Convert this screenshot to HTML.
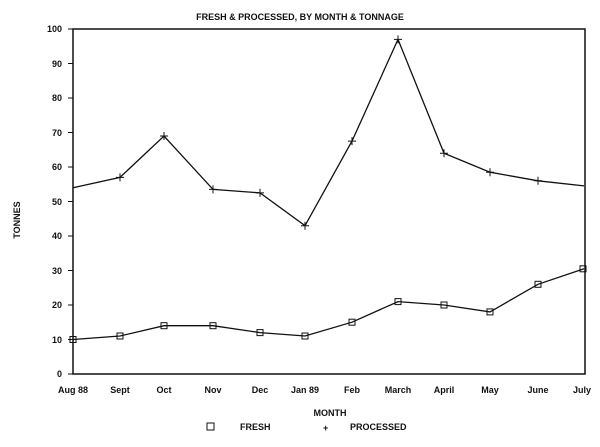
<!DOCTYPE html>
<html><head><style>
body{margin:0;background:#fff;}
svg text{font-family:"Liberation Sans",sans-serif;font-weight:bold;font-size:9px;fill:#111;}
</style></head><body>
<svg width="600" height="442" viewBox="0 0 600 442" xmlns="http://www.w3.org/2000/svg">
<rect width="600" height="442" fill="#fff"/>
<text x="300" y="20" text-anchor="middle">FRESH &amp; PROCESSED, BY MONTH &amp; TONNAGE</text>
<rect x="73" y="29" width="512" height="345" fill="none" stroke="#111" stroke-width="1.5"/>
<g stroke="#111" stroke-width="1">
<line x1="68" y1="374" x2="73" y2="374"/><line x1="68" y1="339.5" x2="73" y2="339.5"/>
<line x1="68" y1="305" x2="73" y2="305"/><line x1="68" y1="270.5" x2="73" y2="270.5"/>
<line x1="68" y1="236" x2="73" y2="236"/><line x1="68" y1="201.5" x2="73" y2="201.5"/>
<line x1="68" y1="167" x2="73" y2="167"/><line x1="68" y1="132.5" x2="73" y2="132.5"/>
<line x1="68" y1="98" x2="73" y2="98"/><line x1="68" y1="63.5" x2="73" y2="63.5"/>
<line x1="68" y1="29" x2="73" y2="29"/>
</g>
<g text-anchor="end">
<text x="62" y="377">0</text><text x="62" y="343">10</text><text x="62" y="308">20</text>
<text x="62" y="274">30</text><text x="62" y="239">40</text><text x="62" y="205">50</text>
<text x="62" y="170">60</text><text x="62" y="136">70</text><text x="62" y="101">80</text>
<text x="62" y="67">90</text><text x="62" y="32">100</text>
</g>
<text x="20" y="220" text-anchor="middle" transform="rotate(-90 20 220)" font-size="8">TONNES</text>
<g text-anchor="middle">
<text x="73" y="393">Aug 88</text><text x="120" y="393">Sept</text><text x="164" y="393">Oct</text>
<text x="213" y="393">Nov</text><text x="260" y="393">Dec</text><text x="305" y="393">Jan 89</text>
<text x="352" y="393">Feb</text><text x="398" y="393">March</text><text x="444" y="393">April</text>
<text x="490" y="393">May</text><text x="538" y="393">June</text><text x="582" y="393">July</text>
<text x="330" y="416" font-size="8">MONTH</text>
</g>
<rect x="207" y="423" width="7" height="7" fill="none" stroke="#111"/>
<text x="240" y="430">FRESH</text>
<text x="323" y="431" font-size="11">+</text>
<text x="350" y="430">PROCESSED</text>
<polyline fill="none" stroke="#111" stroke-width="1.3" points="73,187.7 120,177.4 164,136 213,189.4 260,192.9 305,225.7 352,141.1 398,39.4 444,153.2 490,172.2 538,180.8 584,185.9"/>
<g stroke="#111" stroke-width="1">
<path d="M116,177.4h8M120,173.4v8 M160,136h8M164,132v8 M209,189.4h8M213,185.4v8 M256,192.9h8M260,188.9v8 M301,225.7h8M305,221.7v8 M348,141.1h8M352,137.1v8 M394,39.4h8M398,35.4v8 M440,153.2h8M444,149.2v8 M486,172.2h8M490,168.2v8 M534,180.8h8M538,176.8v8"/>
</g>
<polyline fill="none" stroke="#111" stroke-width="1.3" points="73,339.5 120,336 164,325.7 213,325.7 260,332.6 305,336 352,322.2 398,301.6 444,305 490,311.9 538,284.3 584,268.8"/>
<g fill="none" stroke="#111" stroke-width="1">
<rect x="70" y="336.5" width="6" height="6"/><rect x="117" y="333" width="6" height="6"/>
<rect x="161" y="322.7" width="6" height="6"/><rect x="210" y="322.7" width="6" height="6"/>
<rect x="257" y="329.6" width="6" height="6"/><rect x="302" y="333" width="6" height="6"/>
<rect x="349" y="319.2" width="6" height="6"/><rect x="395" y="298.6" width="6" height="6"/>
<rect x="441" y="302" width="6" height="6"/><rect x="487" y="308.9" width="6" height="6"/>
<rect x="535" y="281.3" width="6" height="6"/><rect x="580" y="265.8" width="6" height="6"/>
</g>
</svg>
</body></html>
